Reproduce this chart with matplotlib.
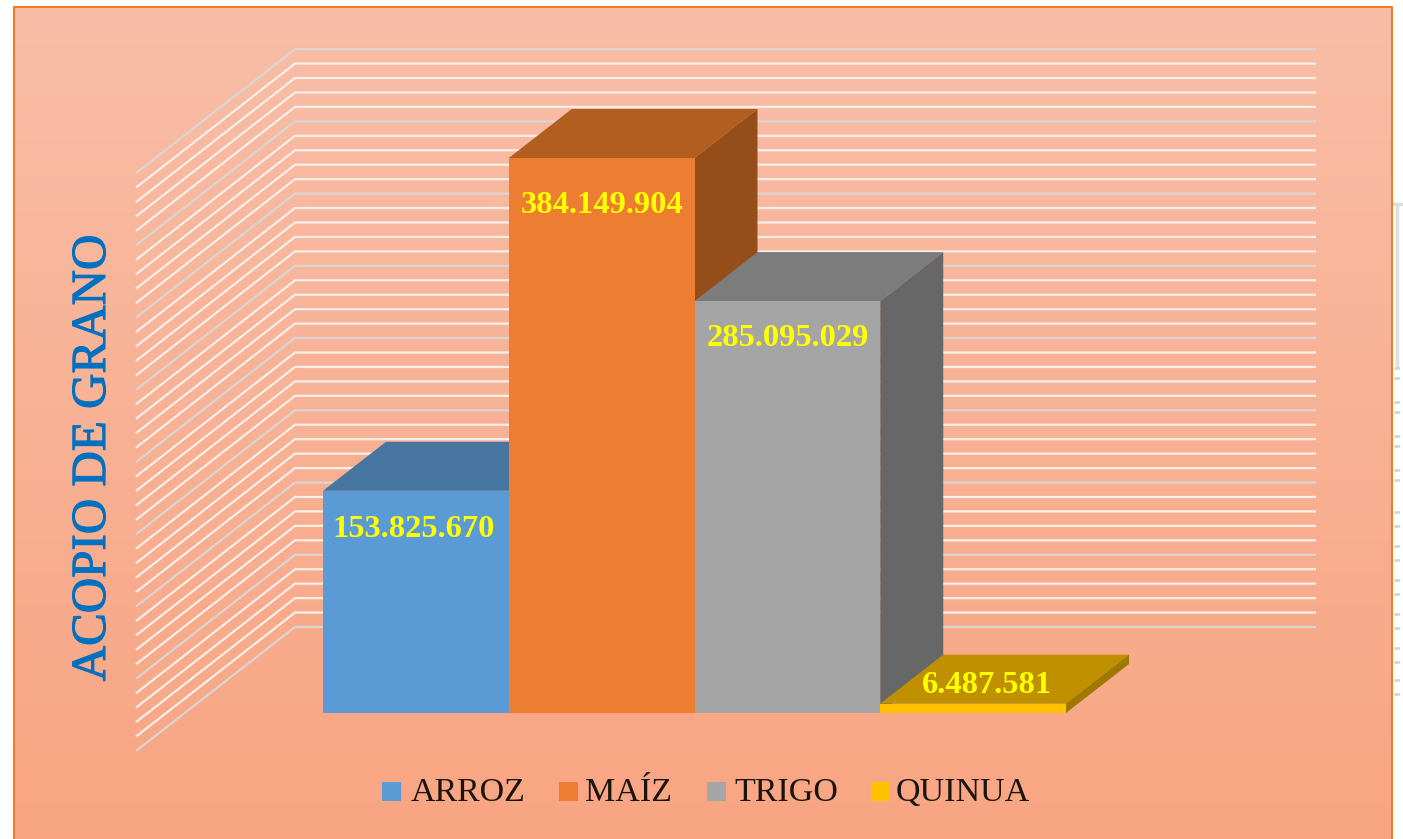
"""Acopio de grano: columnas 3D oblicuas dibujadas con matplotlib."""

import matplotlib
matplotlib.use("Agg")
import matplotlib.pyplot as plt
import matplotlib.patheffects as pe
from matplotlib.lines import Line2D
from matplotlib.patches import Polygon, Rectangle
import numpy as np

categories = ["ARROZ", "MAÍZ", "TRIGO", "QUINUA"]
values = [153825670, 384149904, 285095029, 6487581]
value_labels = ["153.825.670", "384.149.904", "285.095.029", "6.487.581"]
major_ticks = [0, 50e6, 100e6, 150e6, 200e6, 250e6, 300e6, 350e6, 400e6]
minor_step = 10e6
axis_max = 400e6

front_colors = ["#5B9BD5", "#ED7D31", "#A5A5A5", "#FFC000"]
top_colors = ["#4675A1", "#B25E21", "#7C7C7C", "#BF9000"]
side_colors = ["#3A6085", "#954D19", "#676767", "#9F7800"]

W, H = 1403, 839
BAR_X0, BAR_W = 323, 185.75
BASE_Y, PX_PER_UNIT = 713, 1.4447e-6

plt.rcParams["font.family"] = ["Liberation Serif", "DejaVu Serif"]


def fig_xy(x, y):
    """Pixel de la imagen a coordenadas de figura."""
    return x / W, 1 - y / H


def to_x(px):
    return (px - BAR_X0) / BAR_W - 0.5


def to_y(py):
    return (BASE_Y - py) / PX_PER_UNIT


fig = plt.figure(figsize=(W / 100, H / 100), dpi=100, facecolor="white")

# fondo con degradado vertical dentro del marco
bg = fig.add_axes([14 / W, 0, (1392 - 14) / W, 1 - 7 / H], zorder=0)
top_rgb = np.array(matplotlib.colors.to_rgb("#F8BEA7"))
bottom_rgb = np.array(matplotlib.colors.to_rgb("#F9A582"))
ramp = np.linspace(0, 1, 256)[:, None, None]
bg.imshow(top_rgb * (1 - ramp) + bottom_rgb * ramp, aspect="auto")
bg.axis("off")

ax = fig.add_axes([0, 0, 1, 1], zorder=1)
ax.patch.set_alpha(0)
ax.set_xlim(to_x(0), to_x(W))
ax.set_ylim(to_y(H), to_y(0))
ax.axis("off")

# paredes: lineas de rejilla de la pared lateral y del fondo
ticks = np.arange(0, axis_max + minor_step, minor_step)
wall_dy = (BASE_Y - 751) / PX_PER_UNIT
back_dy = (BASE_Y - 627) / PX_PER_UNIT
for tick in ticks:
    is_major = tick in major_ticks
    ax.plot(
        [to_x(136), to_x(295), to_x(1316)],
        [tick + wall_dy, tick + back_dy, tick + back_dy],
        color="#DAD5D2" if is_major else "#F8EFEB",
        lw=1.6, solid_joinstyle="miter", solid_capstyle="butt", zorder=1,
    )

# columnas: cara frontal con ax.bar, tapa y lateral como poligonos
depth_x = 63 / BAR_W
depth_y = 49 / PX_PER_UNIT
for i, value in enumerate(values):
    left, right = i - 0.5, i + 0.5
    z = 2 + i
    ax.add_patch(Polygon(
        [(left, value), (right, value),
         (right + depth_x, value + depth_y), (left + depth_x, value + depth_y)],
        facecolor=top_colors[i], edgecolor="none", zorder=z,
    ))
    ax.add_patch(Polygon(
        [(right, 0), (right + depth_x, depth_y),
         (right + depth_x, value + depth_y), (right, value)],
        facecolor=side_colors[i], edgecolor="none", zorder=z,
    ))
    ax.bar(i, value, width=1.0, color=front_colors[i], zorder=z + 0.5)

# etiquetas de valor (desplazamiento en pixeles desde la cima de la columna)
label_dx = [-2, 0, 0, 14]
label_dy = [39, 47, 37, -18]
for i, value in enumerate(values):
    ax.annotate(
        value_labels[i], xy=(i + 0.0, value),
        xytext=(label_dx[i] * 0.72, -label_dy[i] * 0.72), textcoords="offset points",
        ha="center", va="center", color="#FFFF00", fontsize=23.4, fontweight="bold",
        zorder=10,
    )

# titulo del eje
x, y = fig_xy(93, 458)
fig.text(x, y, "ACOPIO DE GRANO", rotation=90, ha="center", va="center",
         color="#0070C0", fontsize=35.3, zorder=5,
         path_effects=[pe.withStroke(linewidth=0.8, foreground="#0070C0")])

# leyenda
swatch_x = [382, 559, 707, 871]
text_x = [411, 585, 734, 896]
for i, name in enumerate(categories):
    x, y = fig_xy(swatch_x[i], 801)
    fig.add_artist(Rectangle((x, y), 19 / W, 19 / H, transform=fig.transFigure,
                             facecolor=front_colors[i], edgecolor="none", zorder=5))
    x, y = fig_xy(text_x[i], 793)
    fig.text(x, y, name, ha="left", va="center", color="#1A1410", fontsize=24.5, zorder=5)

# marco naranja (sin borde inferior visible)
frame_x = [14 / W, 14 / W, 1392 / W, 1392 / W]
frame_y = [0, 1 - 7 / H, 1 - 7 / H, 0]
fig.add_artist(Line2D(frame_x, frame_y, transform=fig.transFigure, color="#F47A2C",
                      lw=1.5, zorder=6))

# restos de la pagina original a la derecha del marco
for x0, x1, y0, y1, lw in [(1394, 1403, 204, 204, 2.5), (1397, 1397, 204, 365, 2.5)]:
    fig.add_artist(Line2D([x0 / W, x1 / W], [1 - y0 / H, 1 - y1 / H],
                          transform=fig.transFigure, color="#DEDEDE", lw=lw))
for y0 in [368, 378, 402, 412, 436, 446, 470, 480, 512, 526, 546, 560, 580, 594,
           614, 628, 648, 662, 680, 694]:
    fig.add_artist(Line2D([1394 / W, 1403 / W], [1 - y0 / H, 1 - y0 / H],
                          transform=fig.transFigure, color="#D6D6D6", lw=2,
                          ls=(0, (2, 1))))

fig.savefig("out.png", dpi=100)
